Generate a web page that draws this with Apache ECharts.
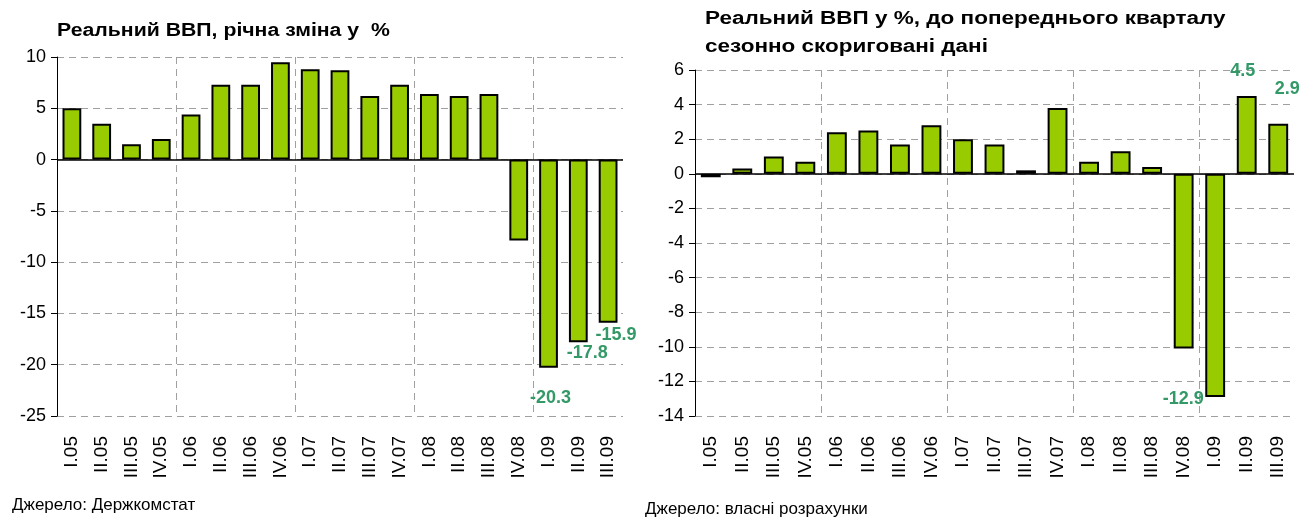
<!DOCTYPE html>
<html>
<head>
<meta charset="utf-8">
<script src="https://cdn.jsdelivr.net/npm/echarts@6/dist/echarts.min.js"></script>
<style>
  html, body { margin: 0; padding: 0; background: #fff; }
  #chart { width: 1302px; height: 519px; }
</style>
</head>
<body>
<div id="chart"></div>
<script>
// quarters shared by both charts
const quarters = ['I.05','II.05','III.05','IV.05','I.06','II.06','III.06','IV.06','I.07','II.07','III.07','IV.07','I.08','II.08','III.08','IV.08','I.09','II.09','III.09']
// real GDP, % change year on year
const yoyGrowth = [5.0, 3.5, 1.5, 2.0, 4.4, 7.3, 7.3, 9.5, 8.8, 8.7, 6.2, 7.3, 6.4, 6.2, 6.4, -7.9, -20.3, -17.8, -15.9]
// real GDP, % change to previous quarter, seasonally adjusted
const qoqGrowth = [-0.2, 0.3, 1.0, 0.7, 2.4, 2.5, 1.7, 2.8, 2.0, 1.7, 0.2, 3.8, 0.7, 1.3, 0.4, -10.1, -12.9, 4.5, 2.9]
const yoyTicks = [-25, 10, 5]   // min, max, step
const qoqTicks = [-14, 6, 2]

const FONT = "'Liberation Sans', Arial, sans-serif"
const BAR = '#99CC00'
const LABEL_GREEN = '#339966'

// which bars carry a value label, and where it sits
const yoyLabels = {
  16: { position: 'bottom', distance: 21, offset: [2, 0] },
  17: { position: 'bottom', distance: 2, offset: [9, 0] },
  18: { position: 'bottom', distance: 3, offset: [8, 0] }
}
const qoqLabels = {
  16: { position: 'bottom', distance: 0, offset: [-32, -7] },
  17: { position: 'top', distance: 16, offset: [-4, 0] },
  18: { position: 'top', distance: 26, offset: [9, 0] }
}

const gridLine = { show: true, lineStyle: { color: '#a0a0a0', type: [7, 5], width: 1 } }

function barData(values, labels){
  return values.map((v, i) => {
    const item = { value: v }
    if(labels[i]){
      item.label = {
        show: true,
        ...labels[i],
        formatter: p => p.value.toFixed(1),
        color: LABEL_GREEN,
        fontSize: 18,
        fontWeight: 'bold',
        fontFamily: FONT
      }
    }
    return item
  })
}

function xAxisFor(gridIndex){
  return {
    type: 'category',
    gridIndex,
    data: quarters,
    axisLine: { show: false, onZero: false },
    axisTick: { show: false },
    axisLabel: { rotate: 90, fontSize: 19, color: '#000', fontFamily: FONT, margin: 20 },
    // a dashed line every four quarters, none on the plot edges
    splitLine: { ...gridLine, showMinLine: false, showMaxLine: false, interval: (i) => i % 4 === 0 }
  }
}

function yAxisFor(gridIndex, ticks){
  return {
    type: 'value',
    gridIndex,
    min: ticks[0],
    max: ticks[1],
    interval: ticks[2],
    axisLine: { show: true, lineStyle: { color: '#000', width: 1 } },
    axisTick: { show: true, length: 6, lineStyle: { color: '#000' } },
    axisLabel: { fontSize: 18, color: '#000', fontFamily: FONT, margin: 11 },
    splitLine: gridLine
  }
}

function barSeries(idx, values, labels){
  return {
    type: 'bar',
    xAxisIndex: idx,
    yAxisIndex: idx,
    barWidth: '63%',
    silent: true,
    itemStyle: { color: BAR, borderColor: '#000', borderWidth: 2 },
    data: barData(values, labels),
    markLine: {
      silent: true,
      symbol: ['none', 'none'],
      label: { show: false },
      lineStyle: { color: '#000', type: 'solid', width: 1.5 },
      data: [{ yAxis: 0 }]
    }
  }
}

const titleFont = { fontSize: 18, fontWeight: 'bold', fill: '#000', fontFamily: FONT, verticalAlign: 'top' }

const myChart = echarts.init(document.getElementById('chart'))

const option = {
  animation: false,
  backgroundColor: '#fff',
  grid: [
    { left: 57, top: 57, width: 566, height: 359 },
    { left: 695, top: 70, width: 599, height: 346 }
  ],
  xAxis: [xAxisFor(0), xAxisFor(1)],
  yAxis: [yAxisFor(0, yoyTicks), yAxisFor(1, qoqTicks)],
  series: [
    barSeries(0, yoyGrowth, yoyLabels),
    barSeries(1, qoqGrowth, qoqLabels)
  ],
  graphic: [
    // titles, stretched a bit to the width of the original's spaced lettering
    { type: 'text', x: 57, y: 22, scaleX: 1.18, style: { ...titleFont, text: 'Реальний ВВП, річна зміна у  %' } },
    { type: 'text', x: 705, y: 5, scaleX: 1.25, style: { ...titleFont, lineHeight: 28, text: 'Реальний ВВП у %, до попереднього кварталу\nсезонно скориговані дані' } },
    { type: 'text', left: 12, top: 497, style: { text: 'Джерело: Держкомстат', fontSize: 17, fill: '#000', fontFamily: FONT } },
    { type: 'text', left: 645, top: 501, style: { text: 'Джерело: власні розрахунки', fontSize: 17, fill: '#000', fontFamily: FONT } }
  ]
}

myChart.setOption(option)
</script>
</body>
</html>
